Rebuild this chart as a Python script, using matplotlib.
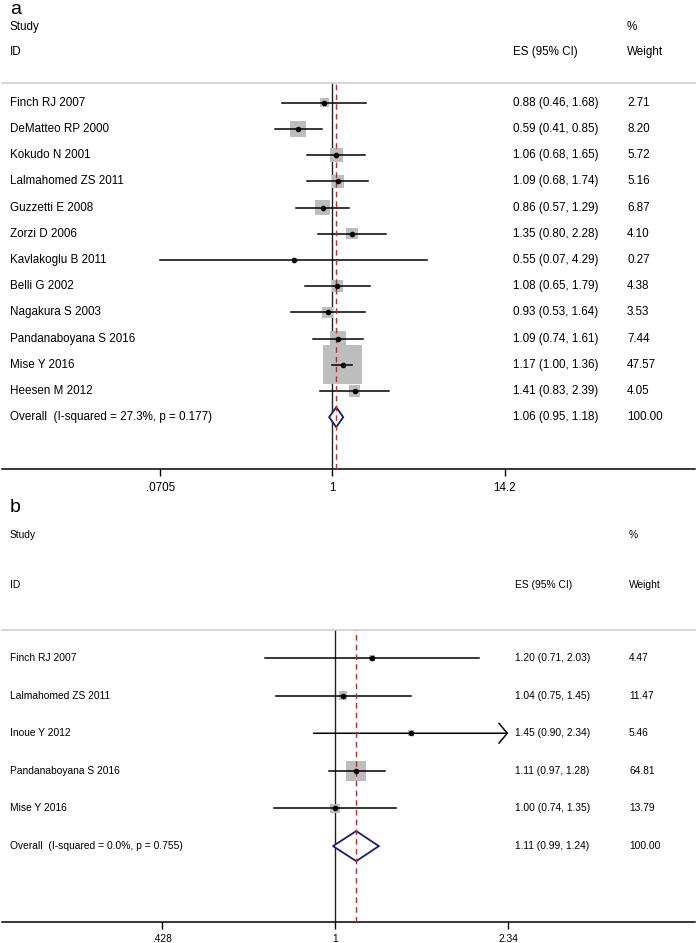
import matplotlib
matplotlib.use("Agg")
import matplotlib.pyplot as plt
from matplotlib.transforms import blended_transform_factory

plt.rcParams['font.family'] = ['Liberation Sans', 'DejaVu Sans']

# panel a data
studies_a = ["Finch RJ 2007", "DeMatteo RP 2000", "Kokudo N 2001", "Lalmahomed ZS 2011",
             "Guzzetti E 2008", "Zorzi D 2006", "Kavlakoglu B 2011", "Belli G 2002",
             "Nagakura S 2003", "Pandanaboyana S 2016", "Mise Y 2016", "Heesen M 2012"]
es_a = [0.88, 0.59, 1.06, 1.09, 0.86, 1.35, 0.55, 1.08, 0.93, 1.09, 1.17, 1.41]
lo_a = [0.46, 0.41, 0.68, 0.68, 0.57, 0.80, 0.07, 0.65, 0.53, 0.74, 1.00, 0.83]
hi_a = [1.68, 0.85, 1.65, 1.74, 1.29, 2.28, 4.29, 1.79, 1.64, 1.61, 1.36, 2.39]
wt_a = [2.71, 8.20, 5.72, 5.16, 6.87, 4.10, 0.27, 4.38, 3.53, 7.44, 47.57, 4.05]
overall_a = [1.06, 0.95, 1.18]
het_a = "Overall  (I-squared = 27.3%, p = 0.177)"
ticks_a = [0.0705, 1, 14.2]
ticklabels_a = [".0705", "1", "14.2"]

# panel b data
studies_b = ["Finch RJ 2007", "Lalmahomed ZS 2011", "Inoue Y 2012",
             "Pandanaboyana S 2016", "Mise Y 2016"]
es_b = [1.20, 1.04, 1.45, 1.11, 1.00]
lo_b = [0.71, 0.75, 0.90, 0.97, 0.74]
hi_b = [2.03, 1.45, 2.34, 1.28, 1.35]
wt_b = [4.47, 11.47, 5.46, 64.81, 13.79]
overall_b = [1.11, 0.99, 1.24]
het_b = "Overall  (I-squared = 0.0%, p = 0.755)"
ticks_b = [0.428, 1, 2.34]
ticklabels_b = [".428", "1", "2.34"]

W, H = 697, 943
fig = plt.figure(figsize=(W / 100, H / 100), dpi=100)


def fy(px):
    return 1 - px / H


def panel(top, bottom, xlim, ylim, studies, es, lo, hi, wt, overall, het,
          ticks, ticklabels, fs, sq_k, dia_h, es_x, wt_x, clip_hi=None):
    ax = fig.add_axes([2 / W, fy(bottom), 693 / W, (bottom - top) / H])
    ax.set_xscale('log')
    ax.set_xlim(*xlim)
    ax.set_ylim(*ylim)
    ax.minorticks_off()
    ax.set_xticks(ticks)
    ax.set_xticklabels(ticklabels)
    ax.set_yticks([])
    for s in ['left', 'right']:
        ax.spines[s].set_visible(False)
    ax.spines['top'].set_color('#cfcfcf')
    ax.spines['top'].set_linewidth(1.2)
    ax.spines['bottom'].set_linewidth(1.1)
    ax.tick_params(axis='x', length=5, width=1, labelsize=fs, pad=4)

    ax.axvline(1, color='#222222', lw=1.0, zorder=1)
    ax.axvline(overall[0], color='#b03030', lw=1.0, ls=(0, (4, 3)), zorder=4)

    tr = blended_transform_factory(fig.transFigure, ax.transData)
    n = len(studies)
    for i in range(n):
        side = sq_k * wt[i] ** 0.5 * 0.72
        ax.scatter([es[i]], [i], marker='s', s=side ** 2, color='#bdbdbd',
                   edgecolors='none', zorder=2)
        if clip_hi is not None and hi[i] >= clip_hi:
            ax.annotate('', xy=(hi[i], i), xytext=(lo[i], i),
                        arrowprops=dict(arrowstyle='->,head_length=0.3,head_width=0.36',
                                        mutation_scale=20, lw=1.1, color='black',
                                        shrinkA=0, shrinkB=0), zorder=3)
        else:
            ax.plot([lo[i], hi[i]], [i, i], color='black', lw=1.1, zorder=3)
        ax.plot([es[i]], [i], 'o', color='black', ms=3.0, zorder=5)
        ax.text(10 / W, i, studies[i], transform=tr, fontsize=fs, va='center')
        ax.text(es_x / W, i, f"{es[i]:.2f} ({lo[i]:.2f}, {hi[i]:.2f})",
                transform=tr, fontsize=fs, va='center')
        ax.text(wt_x / W, i, f"{wt[i]:.2f}", transform=tr, fontsize=fs, va='center')

    # overall diamond
    e, l, h = overall
    ax.fill([l, e, h, e, l], [n, n - dia_h, n, n + dia_h, n], facecolor='white',
            edgecolor='#1a1a7a', lw=1.3, zorder=3)
    ax.text(10 / W, n, het, transform=tr, fontsize=fs, va='center')
    ax.text(es_x / W, n, f"{e:.2f} ({l:.2f}, {h:.2f})", transform=tr,
            fontsize=fs, va='center')
    ax.text(wt_x / W, n, f"{sum(wt):.2f}", transform=tr, fontsize=fs, va='center')
    return ax


panel(83, 469.3, (0.00615, 266.4), (13.99, -0.752), studies_a, es_a, lo_a, hi_a,
      wt_a, overall_a, het_a, ticks_a, ticklabels_a, 8.4, 5.65, 0.38, 513, 627)
panel(630, 921.7, (0.1952, 5.85), (7.01, -0.745), studies_b, es_b, lo_b, hi_b,
      wt_b, overall_b, het_b, ticks_b, ticklabels_b, 7.4, 2.5, 0.4, 515, 629,
      clip_hi=ticks_b[-1])

# headers
fig.text(10 / W, fy(9), "a", fontsize=14, va='center')
fig.text(10 / W, fy(27), "Study", fontsize=8.4, va='center')
fig.text(10 / W, fy(52), "ID", fontsize=8.4, va='center')
fig.text(627 / W, fy(27), "%", fontsize=8.4, va='center')
fig.text(513 / W, fy(52), "ES (95% CI)", fontsize=8.4, va='center')
fig.text(627 / W, fy(52), "Weight", fontsize=8.4, va='center')

fig.text(10 / W, fy(508), "b", fontsize=14, va='center')
fig.text(10 / W, fy(535), "Study", fontsize=7.4, va='center')
fig.text(10 / W, fy(585), "ID", fontsize=7.4, va='center')
fig.text(629 / W, fy(535), "%", fontsize=7.4, va='center')
fig.text(515 / W, fy(585), "ES (95% CI)", fontsize=7.4, va='center')
fig.text(629 / W, fy(585), "Weight", fontsize=7.4, va='center')

fig.savefig("out.png", dpi=100)
